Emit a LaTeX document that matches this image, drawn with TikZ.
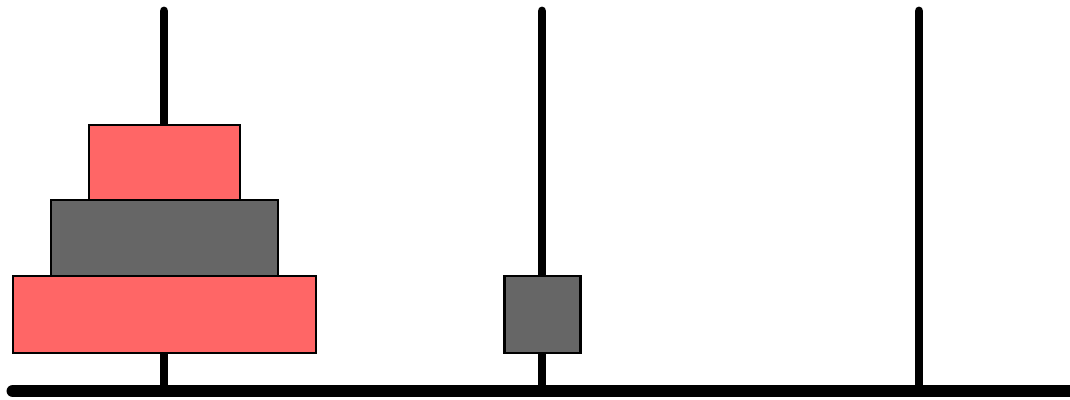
\documentclass[tikz,border=0pt]{standalone}
\usepackage{tikz}

\begin{document}
\begin{tikzpicture} [
    x=0.02cm, y=-0.02cm,
    peg/.style={line width=9pt*0.5656, line cap=round},
    base/.style={line width=13pt*0.5656, line cap=round},
    disk/.style={draw, line width=3pt*0.5656},
    reddisk/.style={disk, fill=red!60!white},
    graydisk/.style={disk, fill=black!60}
]
    \useasboundingbox (0,0) rectangle (1070,399);

    % Pegs
    \foreach \px/\name in {164/left, 542/middle, 919/right} {
        \coordinate (\name top) at (\px,11);
        \coordinate (\name foot) at (\px,390);
        \draw[peg] (\name top) -- (\name foot);
    }

    % Base
    \coordinate (base left) at (13,391);
    \coordinate (base right) at (1080,391);
    \draw[base] (base left) -- (base right);

    % Disks on the left peg
    \draw[reddisk] (13,276) rectangle (316,353);
    \draw[graydisk] (51,200) rectangle (278,276);
    \draw[reddisk] (89,125) rectangle (240,200);

    % Disk on the middle peg
    \draw[graydisk] (504,276) rectangle (580,353);

\end{tikzpicture}
\end{document}
